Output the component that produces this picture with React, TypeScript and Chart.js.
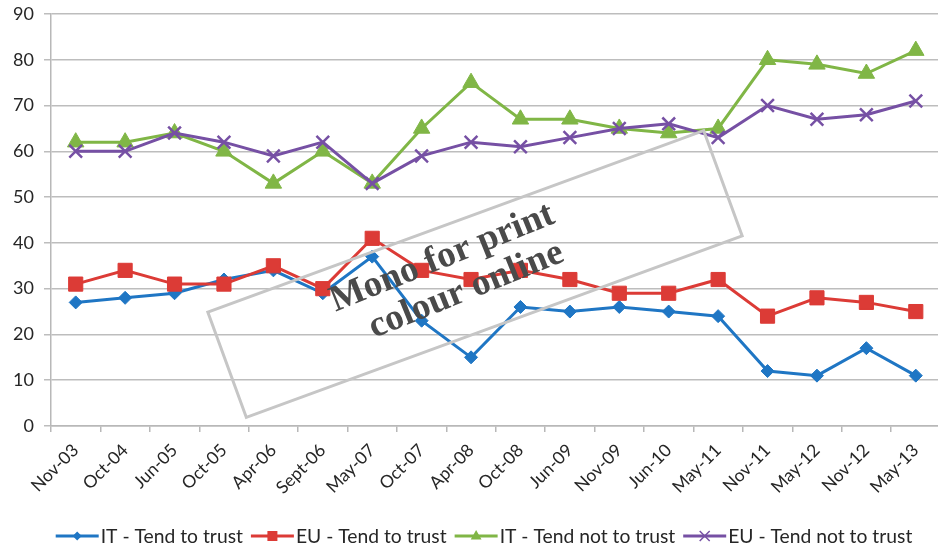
import React, { useEffect, useRef } from "react";
import { Chart, registerables } from "chart.js";

Chart.register(...registerables);

const categories = [
  "Nov-03", "Oct-04", "Jun-05", "Oct-05", "Apr-06", "Sept-06", "May-07", "Oct-07", "Apr-08",
  "Oct-08", "Jun-09", "Nov-09", "Jun-10", "May-11", "Nov-11", "May-12", "Nov-12", "May-13",
];
const itTrust = [27, 28, 29, 32, 34, 29, 37, 23, 15, 26, 25, 26, 25, 24, 12, 11, 17, 11];
const euTrust = [31, 34, 31, 31, 35, 30, 41, 34, 32, 34, 32, 29, 29, 32, 24, 28, 27, 25];
const itNotTrust = [62, 62, 64, 60, 53, 60, 53, 65, 75, 67, 67, 65, 64, 65, 80, 79, 77, 82];
const euNotTrust = [60, 60, 64, 62, 59, 62, 53, 59, 62, 61, 63, 65, 66, 63, 70, 67, 68, 71];
const seriesLabels = [
  "IT - Tend to trust",
  "EU - Tend to trust",
  "IT - Tend not to trust",
  "EU - Tend not to trust",
];
const yMin = 0;
const yMax = 90;
const yStep = 10;
const stampLines = ["Mono for print", "colour online"];

const BLUE = "#1f76c4";
const RED = "#dc3b36";
const GREEN = "#80b646";
const PURPLE = "#7650a4";
const FONT = "Lato, 'Open Sans', sans-serif";

function drawMarker(ctx: CanvasRenderingContext2D, style: string, x: number, y: number, r: number, color: string) {
  ctx.save();
  ctx.fillStyle = color;
  ctx.strokeStyle = color;
  ctx.beginPath();
  if (style === "rectRot") {
    ctx.moveTo(x, y - r);
    ctx.lineTo(x + r, y);
    ctx.lineTo(x, y + r);
    ctx.lineTo(x - r, y);
    ctx.closePath();
    ctx.fill();
  } else if (style === "rect") {
    ctx.rect(x - r, y - r, 2 * r, 2 * r);
    ctx.fill();
  } else if (style === "triangle") {
    ctx.moveTo(x, y - r);
    ctx.lineTo(x + r * 0.9, y + r * 0.6);
    ctx.lineTo(x - r * 0.9, y + r * 0.6);
    ctx.closePath();
    ctx.fill();
  } else {
    ctx.lineWidth = 1.5;
    ctx.moveTo(x - r, y - r);
    ctx.lineTo(x + r, y + r);
    ctx.moveTo(x + r, y - r);
    ctx.lineTo(x - r, y + r);
    ctx.stroke();
  }
  ctx.restore();
}

const legendPlugin = {
  id: "customLegend",
  afterDraw(chart: any) {
    const ctx: CanvasRenderingContext2D = chart.ctx;
    const items = chart.data.datasets.map((d: any) => ({
      label: d.label,
      color: d.borderColor,
      style: d.pointStyle,
    }));
    ctx.save();
    ctx.font = `19.3px ${FONT}`;
    const lineLen = 43;
    const gapText = 2;
    const gapItem = 8;
    const widths = items.map((it: any) => lineLen + gapText + ctx.measureText(it.label).width);
    const total = widths.reduce((a: number, b: number) => a + b, 0) + gapItem * (items.length - 1);
    let x = 484 - total / 2;
    const y = 536;
    items.forEach((it: any, i: number) => {
      ctx.strokeStyle = it.color;
      ctx.lineWidth = 3;
      ctx.beginPath();
      ctx.moveTo(x, y);
      ctx.lineTo(x + lineLen, y);
      ctx.stroke();
      const mr = it.style === "rect" ? 5 : it.style === "rectRot" ? 4.5 : it.style === "triangle" ? 6 : 5;
      drawMarker(ctx, it.style, x + lineLen / 2, y, mr, it.color);
      ctx.fillStyle = "#262626";
      ctx.textBaseline = "middle";
      ctx.textAlign = "left";
      ctx.fillText(it.label, x + lineLen + gapText, y + 1);
      x += widths[i] + gapItem;
    });
    ctx.restore();
  },
};

const stampPlugin = {
  id: "stamp",
  afterDraw(chart: any) {
    const ctx: CanvasRenderingContext2D = chart.ctx;
    ctx.save();
    ctx.translate(475, 274);
    ctx.rotate((-20.1 * Math.PI) / 180);
    ctx.strokeStyle = "#c6c6c6";
    ctx.lineWidth = 3;
    ctx.strokeRect(-264, -56, 528, 112);
    ctx.restore();

    ctx.save();
    ctx.translate(446, 267);
    ctx.rotate((-22 * Math.PI) / 180);
    ctx.fillStyle = "#4a4a4a";
    ctx.textAlign = "center";
    ctx.textBaseline = "alphabetic";
    ctx.font = `bold 37px 'Liberation Serif', 'DejaVu Serif', serif`;
    ctx.fillText(stampLines[0], 0, 0);
    ctx.fillText(stampLines[1], 10, 39);
    ctx.restore();
  },
};

export default function App() {
  const ref = useRef<HTMLCanvasElement | null>(null);

  useEffect(() => {
    document.body.style.margin = "0";
    const canvas = ref.current;
    if (!canvas) return;
    const mk = (label: string, data: number[], color: string, style: string, radius: number, order: number) => ({
      label,
      data,
      borderColor: color,
      backgroundColor: color,
      borderWidth: 3,
      pointStyle: style,
      pointRadius: radius,
      pointHoverRadius: radius,
      pointBackgroundColor: color,
      pointBorderColor: color,
      pointBorderWidth: style === "crossRot" ? 2.5 : 1,
      tension: 0,
      order,
    });
    const chart = new Chart(canvas, {
      type: "line",
      data: {
        labels: categories,
        datasets: [
          mk(seriesLabels[0], itTrust, BLUE, "rectRot", 6.5, 4),
          mk(seriesLabels[1], euTrust, RED, "rect", 10, 3),
          mk(seriesLabels[2], itNotTrust, GREEN, "triangle", 9.5, 2),
          mk(seriesLabels[3], euNotTrust, PURPLE, "crossRot", 9, 1),
        ] as any,
      },
      options: {
        animation: false,
        responsive: false,
        maintainAspectRatio: false,
        layout: { padding: { top: 14, right: 0, bottom: 0, left: 0 } },
        plugins: {
          legend: { display: false },
          tooltip: { enabled: false },
        },
        scales: {
          x: {
            offset: true,
            grid: {
              offset: true,
              drawOnChartArea: false,
              drawTicks: true,
              tickLength: 6,
              color: "#b8b8b8",
              lineWidth: 1.5,
            },
            border: { display: true, color: "#b8b8b8", width: 1.5 },
            ticks: {
              autoSkip: false,
              minRotation: 45,
              maxRotation: 45,
              padding: 8,
              color: "#262626",
              font: { family: FONT, size: 17.5 },
            },
            afterFit(scale: any) {
              scale.height = 122;
              scale.paddingLeft = 0;
              scale.paddingRight = 0;
            },
          },
          y: {
            min: yMin,
            max: yMax,
            ticks: {
              stepSize: yStep,
              padding: 10,
              color: "#262626",
              font: { family: FONT, size: 18 },
            },
            grid: {
              color: "#bdbdbd",
              lineWidth: 1.5,
              tickLength: 7,
            },
            border: { display: true, color: "#b8b8b8", width: 1.5 },
            afterFit(scale: any) {
              scale.width = 51;
              scale.paddingTop = 0;
              scale.paddingBottom = 0;
            },
          },
        },
      },
      plugins: [legendPlugin, stampPlugin],
    });
    return () => chart.destroy();
  }, []);

  return (
    <div style={{ width: 938, height: 548, overflow: "hidden", background: "#fff" }}>
      <canvas ref={ref} width={952} height={548} style={{ display: "block" }} />
    </div>
  );
}
